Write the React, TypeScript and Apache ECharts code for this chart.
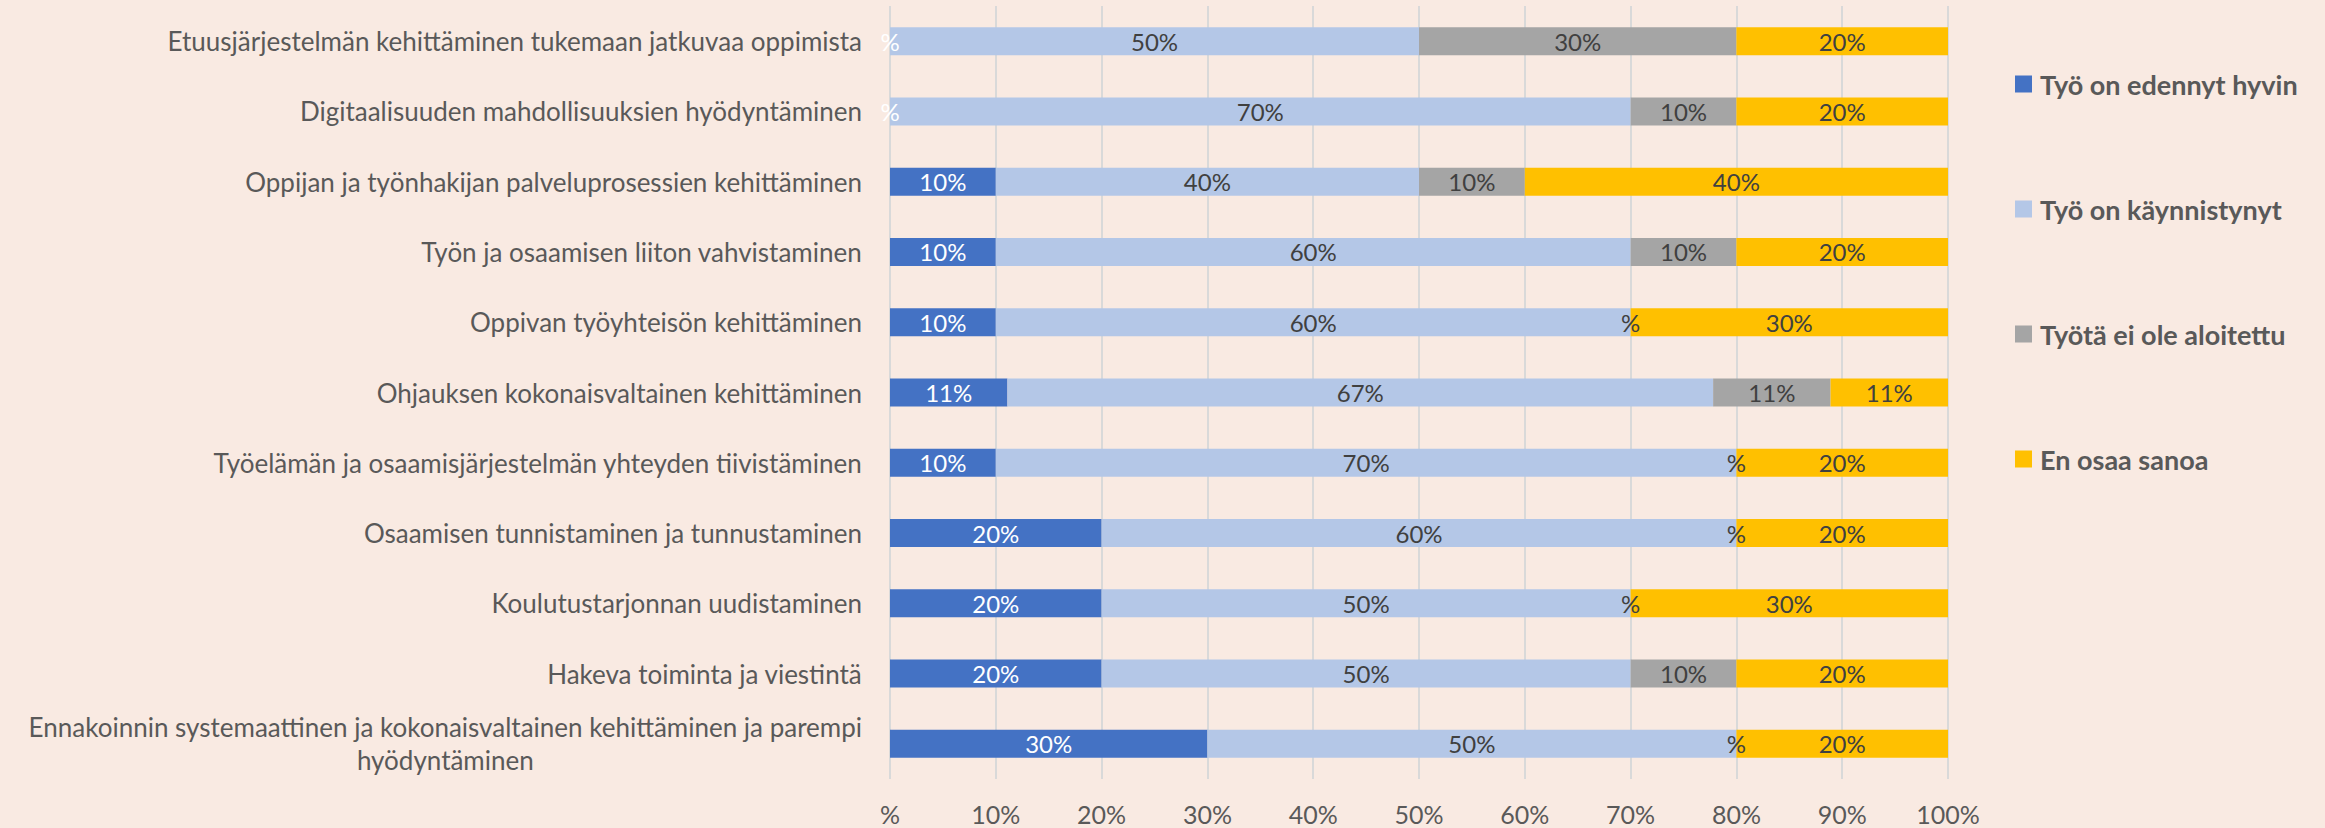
import React, { useEffect, useRef } from "react";
import * as echarts from "echarts";

const categories = [
  "Etuusjärjestelmän kehittäminen tukemaan jatkuvaa oppimista",
  "Digitaalisuuden mahdollisuuksien hyödyntäminen",
  "Oppijan ja työnhakijan palveluprosessien kehittäminen",
  "Työn ja osaamisen liiton vahvistaminen",
  "Oppivan työyhteisön kehittäminen",
  "Ohjauksen kokonaisvaltainen kehittäminen",
  "Työelämän ja osaamisjärjestelmän yhteyden tiivistäminen",
  "Osaamisen tunnistaminen ja tunnustaminen",
  "Koulutustarjonnan uudistaminen",
  "Hakeva toiminta ja viestintä",
  "Ennakoinnin systemaattinen ja kokonaisvaltainen kehittäminen ja parempi\nhyödyntäminen",
];

const seriesNames = [
  "Työ on edennyt hyvin",
  "Työ on käynnistynyt",
  "Työtä ei ole aloitettu",
  "En osaa sanoa",
];

const edennyt = [0, 0, 10, 10, 10, 11.1, 10, 20, 20, 20, 30];
const kaynnistynyt = [50, 70, 40, 60, 60, 66.7, 70, 60, 50, 50, 50];
const eiAloitettu = [30, 10, 10, 10, 0, 11.1, 0, 0, 0, 10, 0];
const enOsaa = [20, 20, 40, 20, 30, 11.1, 20, 20, 30, 20, 20];

const xTicks = [0, 10, 20, 30, 40, 50, 60, 70, 80, 90, 100];

const colors = ["#4472C4", "#B4C7E7", "#A5A5A5", "#FFC000"];
const labelColors = ["#FFFFFF", "#404040", "#404040", "#404040"];
const FONT = "Lato";
const BG = "#F9EAE2";

export default function App() {
  const ref = useRef<HTMLDivElement>(null);
  useEffect(() => {
    document.body.style.margin = "0";
    document.body.style.background = BG;
    const chart = echarts.init(ref.current!, undefined, { renderer: "svg" });
    const data = [edennyt, kaynnistynyt, eiAloitettu, enOsaa];
    chart.setOption({
      animation: false,
      backgroundColor: BG,
      textStyle: { fontFamily: FONT },
      grid: { left: 890, right: 377, top: 6, bottom: 49, containLabel: false },
      legend: {
        orient: "vertical",
        left: 2010,
        top: 64,
        itemWidth: 17,
        itemHeight: 17,
        itemGap: 95,
        icon: "rect",
        data: seriesNames,
        textStyle: {
          fontFamily: FONT,
          fontSize: 27,
          fontWeight: "bold",
          color: "#595959",
          lineHeight: 30,
          padding: [0, 0, 0, 3],
        },
      },
      xAxis: {
        type: "value",
        min: xTicks[0],
        max: xTicks[xTicks.length - 1],
        interval: xTicks[1] - xTicks[0],
        axisLine: { show: false },
        axisTick: { show: false },
        splitLine: { show: true, lineStyle: { color: "#D9D9D9", width: 2 } },
        axisLabel: {
          margin: 22,
          fontSize: 25,
          color: "#595959",
          fontFamily: FONT,
          formatter: (v: number) => (v === 0 ? "%" : v + "%"),
        },
      },
      yAxis: {
        type: "category",
        inverse: true,
        data: categories,
        axisLine: { show: false },
        axisTick: { show: false },
        axisLabel: {
          margin: 28,
          fontSize: 26,
          color: "#595959",
          fontFamily: FONT,
          lineHeight: 33,
          formatter: (v: string) =>
            v
              .split("\n")
              .map((s) => "{c|" + s + "}")
              .join("\n"),
          rich: {
            c: {
              align: "center",
              fontSize: 26,
              color: "#595959",
              fontFamily: FONT,
              lineHeight: 33,
            },
          },
        },
      },
      series: seriesNames.map((name, i) => ({
        name,
        type: "bar",
        stack: "total",
        barWidth: 28,
        data: data[i],
        itemStyle: { color: colors[i] },
        label: {
          show: true,
          position: "inside",
          fontSize: 24,
          fontFamily: FONT,
          color: labelColors[i],
          formatter: (p: any) =>
            p.value === 0 ? "%" : Math.round(p.value) + "%",
        },
      })),
    });
    return () => chart.dispose();
  }, []);
  return <div ref={ref} style={{ width: 2325, height: 828 }} />;
}
